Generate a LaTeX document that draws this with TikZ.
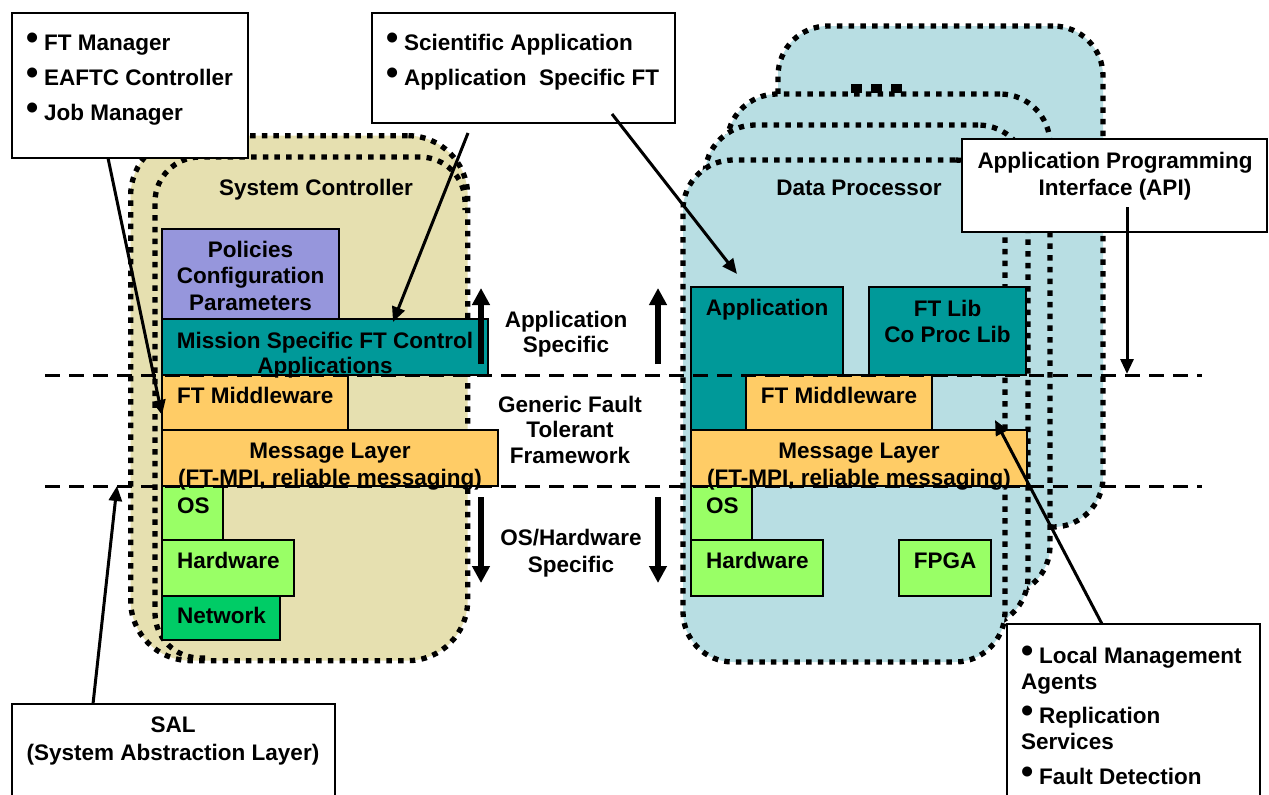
\documentclass[tikz,border=0pt]{standalone}
\usepackage{fontspec}
\setmainfont{Liberation Sans}
\usetikzlibrary{arrows.meta}
\definecolor{beige}{RGB}{230,224,176}
\definecolor{lblue}{RGB}{184,222,227}
\definecolor{purp}{RGB}{150,150,220}
\definecolor{tealc}{RGB}{0,153,153}
\definecolor{orng}{RGB}{255,204,102}
\definecolor{lgrn}{RGB}{153,255,102}
\definecolor{dgrn}{RGB}{0,204,102}
\newcommand{\blt}[1]{\makebox[#1][l]{\raisebox{0.5pt}{\scalebox{1.55}{\textbullet}}}}
\newcommand{\rbox}[6]{\node[#2, anchor=north west, minimum width=#5pt-#3pt, minimum height=#6pt-#4pt] (#1) at (#3,#4) {};}
\tikzset{
 dotline/.style={line width=5.3pt, dash pattern=on 5.5pt off 6.2pt},
 dpshape/.style={dotline, draw=black, fill=lblue, rounded corners=50pt, inner sep=0pt, outer sep=0pt},
 layer/.style={draw=black, line width=2pt, inner sep=0pt, outer sep=0pt},
 callout/.style={draw=black, line width=2pt, fill=white, inner sep=0pt, outer sep=0pt},
 txt/.style={inner sep=0pt, align=center},
 sepline/.style={line width=3pt, dash pattern=on 15pt off 9pt},
 bigarrow/.style={line width=6pt, -{Triangle[length=17pt,width=17pt]}},
 callarrow/.style={line width=3pt, -{Triangle[length=15pt,width=13pt]}},
}
\begin{document}
\begin{tikzpicture}[x=1pt,y=-1pt,font=\bfseries\fontsize{22.5}{26}\selectfont]
\fill[white] (0,0) rectangle (1269,795);
\useasboundingbox (0,0) rectangle (1269,795);

% System Controller container
\rbox{scouter}{dotline, draw=black, fill=beige, rounded corners=60pt, inner sep=0pt}{128}{133}{465}{658}
\draw[dotline, rounded corners=45pt] (205,658) -- (155,658) -- (155,157) -- (465,157) -- (465,210);

% Data Processor stack
\rbox{dp4}{dpshape}{778}{26}{1103}{527}
\rbox{dp3}{dpshape}{727}{94}{1050}{596}
\rbox{dp2}{dpshape}{705}{125}{1028}{627}
\rbox{dp1}{dpshape}{683}{160}{1005}{662}
\node[fill=black, minimum width=11pt, minimum height=9pt, inner sep=0pt] (more1) at (856.5,88.5) {};
\node[fill=black, minimum width=11pt, minimum height=9pt, inner sep=0pt] (more2) at (876.5,88.5) {};
\node[fill=black, minimum width=11pt, minimum height=9pt, inner sep=0pt] (more3) at (896.5,88.5) {};

% System Controller layers
\rbox{pol}{layer, fill=purp}{162}{229}{339}{319}
\rbox{mis}{layer, fill=tealc}{162}{319}{488}{375}
\rbox{ftml}{layer, fill=orng}{162}{375}{348}{430}
\rbox{msgl}{layer, fill=orng}{162}{430}{498}{486}
\rbox{osl}{layer, fill=lgrn}{162}{486}{223}{540}
\rbox{hwl}{layer, fill=lgrn}{162}{540}{294}{596}
\rbox{netl}{layer, fill=dgrn}{162}{596}{280}{640}

% Data Processor layers
\rbox{appr}{layer, fill=tealc}{691}{287}{843}{430}
\rbox{libr}{layer, fill=tealc}{869}{287}{1026}{375}
\rbox{ftmr}{layer, fill=orng}{746}{375}{932}{430}
\rbox{msgr}{layer, fill=orng}{691}{430}{1027}{486}
\rbox{osr}{layer, fill=lgrn}{691}{486}{752}{540}
\rbox{hwr}{layer, fill=lgrn}{691}{540}{823}{596}
\rbox{fpga}{layer, fill=lgrn}{899}{540}{991}{596}

% texts (base anchor = baseline of the last line)
\node[txt, anchor=base] (sct) at (316,195) {System Controller};
\node[txt, anchor=base] (dpt) at (859,195) {Data Processor};
\node[txt, anchor=base] (polt) at (250.5,310) {Policies\\[0.5pt]Configuration\\[0.5pt]Parameters};
\node[txt, anchor=base] (mist) at (325,373) {Mission Specific FT Control\\[-1pt]Applications};
\node[txt, anchor=base west] (ftmlt) at (177,403) {FT Middleware};
\node[txt, anchor=base] (msglt) at (330,485) {Message Layer\\[1pt](FT-MPI, reliable messaging)};
\node[txt, anchor=base west] (oslt) at (177,513) {OS};
\node[txt, anchor=base west] (hwlt) at (177,568) {Hardware};
\node[txt, anchor=base west] (netlt) at (177,623) {Network};
\node[txt, anchor=base] (apprt) at (767,315) {Application};
\node[txt, anchor=base] (librt) at (947.5,342) {FT Lib\\Co Proc Lib};
\node[txt, anchor=base] (ftmrt) at (839,403) {FT Middleware};
\node[txt, anchor=base] (msgrt) at (859,485) {Message Layer\\[1pt](FT-MPI, reliable messaging)};
\node[txt, anchor=base west] (osrt) at (706,513) {OS};
\node[txt, anchor=base west] (hwrt) at (706,568) {Hardware};
\node[txt, anchor=base] (fpgat) at (945,568) {FPGA};
\node[txt, anchor=base] (appspec) at (566,352) {Application\\[-1pt]Specific};
\node[txt, anchor=base] (generic) at (570,463) {Generic Fault\\[-0.5pt]Tolerant\\[-0.5pt]Framework};
\node[txt, anchor=base] (oshw) at (571,572) {OS/Hardware\\[1pt]Specific};

% separators
\coordinate (s1a) at (45,375); \coordinate (s1b) at (1202,375);
\coordinate (s2a) at (45,486); \coordinate (s2b) at (1202,486);
\draw[sepline] (s1a) -- (s1b);
\draw[sepline] (s2a) -- (s2b);

% big arrows
\coordinate (u1a) at (481,364); \coordinate (u1b) at (481,288);
\coordinate (u2a) at (658,364); \coordinate (u2b) at (658,288);
\coordinate (d1a) at (481,497); \coordinate (d1b) at (481,583);
\coordinate (d2a) at (658,497); \coordinate (d2b) at (658,583);
\draw[bigarrow] (u1a) -- (u1b);
\draw[bigarrow] (u2a) -- (u2b);
\draw[bigarrow] (d1a) -- (d1b);
\draw[bigarrow] (d2a) -- (d2b);

% callouts
\rbox{tlbox}{callout}{12}{13}{248}{158}
\node[txt, anchor=base west, align=left] (tltext) at (26,120) {\blt{18pt}FT Manager\\[9pt]\blt{18pt}EAFTC Controller\\[9pt]\blt{18pt}Job Manager};
\rbox{tmbox}{callout}{372}{13}{675}{123}
\node[txt, anchor=base west, align=left] (tmtext) at (386,85) {\blt{18pt}Scientific Application\\[9pt]\blt{18pt}Application\ \ Specific FT};
\rbox{apibox}{callout}{962}{139}{1267}{232}
\node[txt, anchor=base] (apitext) at (1115,195) {Application Programming\\[1pt]Interface (API)};
\rbox{salbox}{callout}{12}{704}{335}{812}
\node[txt, anchor=base] (saltext) at (173,760) {SAL\\[2pt](System Abstraction Layer)};
\rbox{brbox}{callout}{1007}{624}{1260}{812}
\node[txt, anchor=base west, align=left] (brtext) at (1021,784) {\blt{18pt}Local Management\\Agents\\[8pt]\blt{18pt}Replication\\Services\\[9pt]\blt{18pt}Fault Detection};

% callout arrows
\coordinate (tlA) at (108,158); \coordinate (tlB) at (162,415);
\coordinate (tmA) at (468,133); \coordinate (tmB) at (393,322);
\coordinate (tmC) at (612,114); \coordinate (tmD) at (737,274);
\coordinate (apiA) at (1127,207); \coordinate (apiB) at (1127,374);
\coordinate (salA) at (93,704); \coordinate (salB) at (117,486);
\coordinate (brA) at (1102,624); \coordinate (brB) at (995,420);
\draw[callarrow] (tlA) -- (tlB);
\draw[callarrow] (tmA) -- (tmB);
\draw[callarrow] (tmC) -- (tmD);
\draw[callarrow] (apiA) -- (apiB);
\draw[callarrow] (salA) -- (salB);
\draw[callarrow] (brA) -- (brB);
\end{tikzpicture}
\end{document}
